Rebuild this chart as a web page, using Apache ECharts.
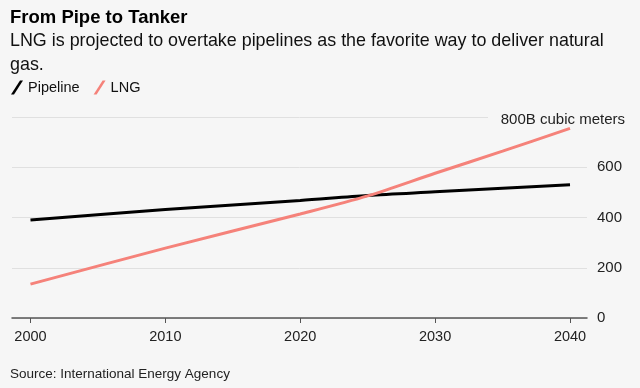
<!DOCTYPE html>
<html><head><meta charset="utf-8">
<script src="https://cdn.jsdelivr.net/npm/echarts@6/dist/echarts.min.js"></script>
<style>html,body{margin:0;padding:0;background:#f6f6f6;}#c{width:640px;height:388px;}</style>
</head><body><div id="c"></div>
<script>
const years = [2000, 2010, 2020, 2025, 2030, 2035, 2040];
const pipeline = [390, 432, 468, 488, 502, 516, 530];
const lng = [135, 278, 414, 486, 576, 664, 755];
const xTicks = [2000, 2010, 2020, 2030, 2040];
const yTicks = [0, 200, 400, 600, 800];
const unitLabel = '800B cubic meters';

const FONT = '"Liberation Sans", Arial, sans-serif';
const chart = echarts.init(document.getElementById('c'), null, {renderer: 'canvas'});
chart.setOption({
  backgroundColor: '#f6f6f6',
  animation: false,
  textStyle: {fontFamily: FONT},
  title: {
    text: 'From Pipe to Tanker',
    subtext: 'LNG is projected to overtake pipelines as the favorite way to deliver natural\ngas.',
    left: 10, top: 8, itemGap: 2, padding: 0,
    textStyle: {fontFamily: FONT, fontSize: 18.5, fontWeight: 'bold', color: '#000'},
    subtextStyle: {fontFamily: FONT, fontSize: 17.9, color: '#111', lineHeight: 24}
  },
  legend: {
    left: 11, top: 80, padding: 0, itemWidth: 12, itemHeight: 14, itemGap: 14,
    icon: 'path://M0,14 L9,0 L12,0 L3,14 Z',
    textStyle: {fontFamily: FONT, fontSize: 14.5, color: '#111'},
    data: ['Pipeline', 'LNG']
  },
  grid: {left: 12, right: 53, top: 117, bottom: 70, containLabel: false},
  xAxis: {
    type: 'value', min: 1998.63, max: 2041.26,
    axisLine: {show: true, lineStyle: {color: '#555', width: 1.5}},
    axisTick: {show: true, customValues: xTicks, length: 5, lineStyle: {color: '#555'}},
    axisLabel: {customValues: xTicks, fontSize: 14.5, color: '#222', margin: 11, fontFamily: FONT,
      formatter: v => String(v)},
    splitLine: {show: false}
  },
  yAxis: {
    type: 'value', position: 'right', min: 0, max: 800, interval: 200,
    axisLine: {show: false}, axisTick: {show: false},
    axisLabel: {fontSize: 15, color: '#222', margin: 10, fontFamily: FONT,
      formatter: v => v === 800 ? '' : String(v)},
    splitLine: {lineStyle: {color: '#e0e0e0', width: 1}}
  },
  graphic: [
    {type: 'rect', shape: {x: 488, y: 110, width: 152, height: 16}, style: {fill: '#f6f6f6'}, z: 50},
    {type: 'text', right: 15, top: 112, z: 51,
      style: {text: unitLabel, font: '15px ' + FONT, fill: '#222'}},
    {type: 'text', left: 10, top: 367,
      style: {text: 'Source: International Energy Agency', font: '13.5px ' + FONT, fill: '#222'}}
  ],
  series: [
    {name: 'Pipeline', type: 'line', data: years.map((y, i) => [y, pipeline[i]]),
      showSymbol: false, smooth: 0.3, lineStyle: {color: '#000', width: 3}, itemStyle: {color: '#000'}, z: 3},
    {name: 'LNG', type: 'line', data: years.map((y, i) => [y, lng[i]]),
      showSymbol: false, smooth: 0.3, lineStyle: {color: '#f5827a', width: 3}, itemStyle: {color: '#f5827a'}, z: 4}
  ]
});
</script></body></html>
